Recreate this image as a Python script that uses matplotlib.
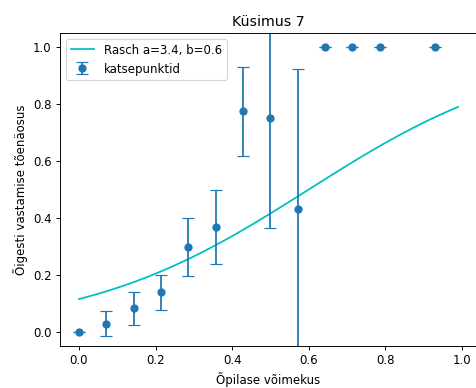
import numpy as np
import matplotlib
matplotlib.use('Agg')
import matplotlib.pyplot as plt

# Rasch model parameters
a = 3.4
b = 0.6

x_points = [0.0, 0.071, 0.143, 0.214, 0.286, 0.357, 0.429, 0.5, 0.571, 0.643, 0.714, 0.786, 0.929]
y_points = [0.0, 0.029, 0.082, 0.139, 0.298, 0.367, 0.775, 0.75, 0.43, 1.0, 1.0, 1.0, 1.0]
y_err = [0.0, 0.045, 0.057, 0.061, 0.103, 0.13, 0.157, 0.385, 0.493, 0.0, 0.0, 0.0, 0.0]

# model curve
x_curve = np.arange(0, 1.0, 0.01)
y_curve = 1 / (1 + np.exp(-a * (x_curve - b)))

dpi = 85
fig = plt.figure(figsize=(477/dpi, 388/dpi), dpi=dpi)
ax = fig.add_axes([60/477, 42/388, 417/477, 313/388])

ax.plot(x_curve, y_curve, color='c', label='Rasch a=%.1f, b=%.1f' % (a, b))
ax.errorbar(x_points, y_points, yerr=y_err, fmt='o', capsize=5, label='katsepunktid')

ax.set_ylim(-0.05, 1.05)
ax.set_title('Küsimus 7')
ax.set_xlabel('Õpilase võimekus')
ax.set_ylabel('Õigesti vastamise tõenäosus')
ax.legend(loc='upper left')

fig.savefig('out.png', dpi=dpi)
